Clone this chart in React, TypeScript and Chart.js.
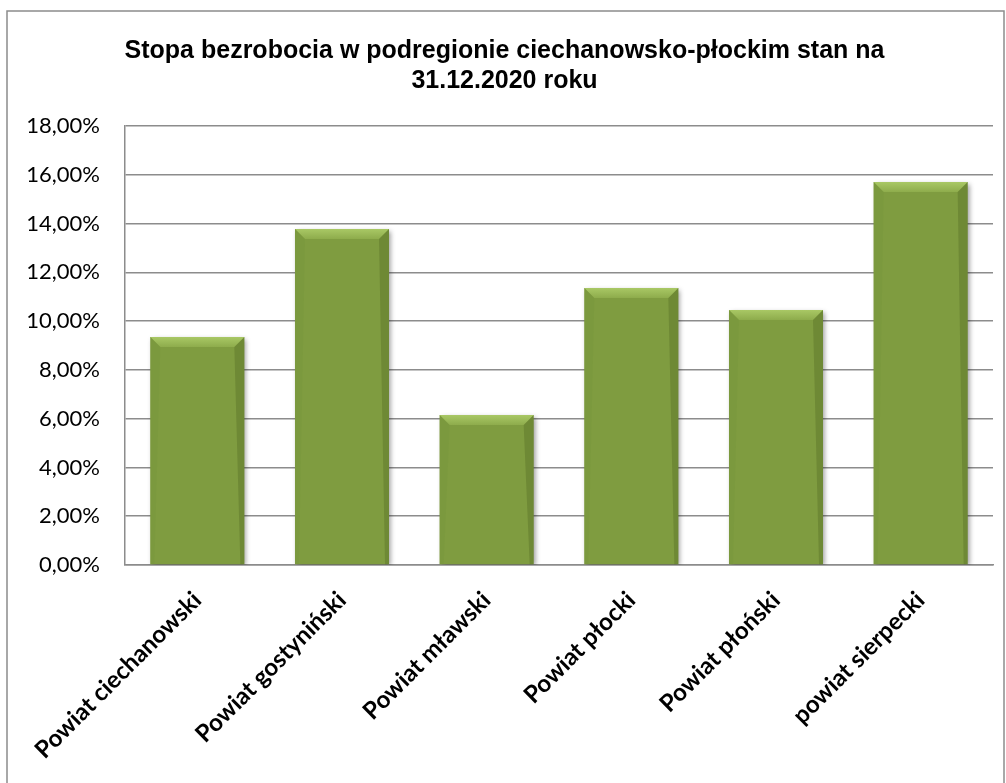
import React, { useEffect, useRef } from 'react';
import { Chart, registerables } from 'chart.js';

Chart.register(...registerables);

const categories = [
  'Powiat ciechanowski',
  'Powiat gostyniński',
  'Powiat mławski',
  'Powiat płocki',
  'Powiat płoński',
  'powiat sierpecki',
];
const unemploymentRate = [9.35, 13.78, 6.15, 11.36, 10.46, 15.7];
const yTickValues = [0, 2, 4, 6, 8, 10, 12, 14, 16, 18];
const titleLines = [
  'Stopa bezrobocia w podregionie ciechanowsko-płockim stan na',
  '31.12.2020 roku',
];

const W = 1006;
const H = 783;

const framePlugin = {
  id: 'frame',
  beforeDraw(chart: any) {
    const ctx = chart.ctx;
    ctx.save();
    ctx.fillStyle = '#ffffff';
    ctx.fillRect(0, 0, chart.width, chart.height);
    ctx.strokeStyle = '#8c8c8c';
    ctx.lineWidth = 1.5;
    ctx.strokeRect(7, 11, 997, 820);
    ctx.restore();
  },
};

const bevelPlugin = {
  id: 'bevel',
  beforeDatasetsDraw(chart: any) {
    const ctx = chart.ctx;
    ctx.save();
    ctx.shadowColor = 'rgba(0,0,0,0.40)';
    ctx.shadowBlur = 5;
    ctx.shadowOffsetX = 2;
    ctx.shadowOffsetY = 2;
  },
  afterDatasetsDraw(chart: any) {
    const ctx = chart.ctx;
    ctx.restore();
    const meta = chart.getDatasetMeta(0);
    meta.data.forEach((bar: any) => {
      const { x, y, base, width } = bar.getProps(['x', 'y', 'base', 'width'], true);
      const left = x - width / 2;
      const right = x + width / 2;
      const top = y;
      const bottom = base;
      const d = 10;
      ctx.save();
      const g = ctx.createLinearGradient(0, top, 0, top + d);
      g.addColorStop(0, '#a9c865');
      g.addColorStop(1, '#8eac4c');
      ctx.beginPath();
      ctx.moveTo(left, top);
      ctx.lineTo(right, top);
      ctx.lineTo(right - d, top + d);
      ctx.lineTo(left + d, top + d);
      ctx.closePath();
      ctx.fillStyle = g;
      ctx.fill();
      ctx.beginPath();
      ctx.moveTo(left, top);
      ctx.lineTo(left + d, top + d);
      ctx.lineTo(left + 4, bottom);
      ctx.lineTo(left, bottom);
      ctx.closePath();
      ctx.fillStyle = 'rgba(120,150,60,0.45)';
      ctx.fill();
      ctx.beginPath();
      ctx.moveTo(right, top);
      ctx.lineTo(right - d, top + d);
      ctx.lineTo(right - 4, bottom);
      ctx.lineTo(right, bottom);
      ctx.closePath();
      ctx.fillStyle = 'rgba(60,80,20,0.25)';
      ctx.fill();
      ctx.restore();
    });
  },
};

export default function App() {
  const canvasRef = useRef<HTMLCanvasElement | null>(null);

  useEffect(() => {
    document.body.style.margin = '0';
    const canvas = canvasRef.current;
    if (!canvas) return;
    const chart = new Chart(canvas, {
      type: 'bar',
      data: {
        labels: categories,
        datasets: [
          {
            data: unemploymentRate,
            backgroundColor: (c: any) => {
              const area = c.chart.chartArea;
              const el = c.element;
              if (!area || !el || el.width === undefined) return '#7f9c40';
              const l = el.x - el.width / 2;
              const r = el.x + el.width / 2;
              const g = c.chart.ctx.createLinearGradient(l, 0, r, 0);
              g.addColorStop(0, '#738f38');
              g.addColorStop(0.15, '#809d41');
              g.addColorStop(0.85, '#809d41');
              g.addColorStop(1, '#6d8733');
              return g;
            },
            borderWidth: 0,
            categoryPercentage: 1,
            barPercentage: 0.65,
          },
        ],
      },
      options: {
        responsive: false,
        animation: false,
        layout: { padding: { left: 8, right: 5, top: 0, bottom: 0 } },
        plugins: {
          legend: { display: false },
          tooltip: { enabled: false },
          title: {
            display: true,
            text: titleLines,
            color: '#000000',
            font: { family: '"Liberation Sans", Arial, sans-serif', size: 25, weight: 'bold', lineHeight: 1.2 },
            padding: { top: 36, bottom: 30 },
          },
        },
        scales: {
          x: {
            grid: { display: false, drawTicks: false },
            border: { display: true, color: '#8c8c8c', width: 1.5 },
            ticks: {
              autoSkip: false,
              minRotation: 45,
              maxRotation: 45,
              padding: 21,
              color: '#000000',
              font: { family: 'Lato, "Noto Sans", sans-serif', size: 24, weight: 'bold' },
            },
            afterFit: (scale: any) => {
              scale.height = 218;
            },
          },
          y: {
            min: 0,
            max: 18,
            afterBuildTicks: (scale: any) => {
              scale.ticks = yTickValues.map((v) => ({ value: v }));
            },
            grid: { color: '#8c8c8c', lineWidth: 1.5, drawTicks: false },
            border: { display: true, color: '#8c8c8c', width: 1.5 },
            ticks: {
              padding: 25,
              color: '#000000',
              font: { family: 'Lato, "Noto Sans", sans-serif', size: 22 },
              callback: (v: any) => Number(v).toFixed(2).replace('.', ',') + '%',
            },
            afterFit: (scale: any) => {
              scale.width = 117;
            },
          },
          ySpacer: {
            position: 'right',
            display: true,
            min: 0,
            max: 18,
            grid: { display: false, drawTicks: false },
            border: { display: false },
            ticks: { display: false },
            afterFit: (scale: any) => {
              scale.width = 8;
            },
          },
        },
      },
      plugins: [framePlugin, bevelPlugin],
    });
    return () => chart.destroy();
  }, []);

  return (
    <div style={{ width: W, height: H, overflow: 'hidden' }}>
      <canvas ref={canvasRef} width={W} height={H} style={{ display: 'block', width: W, height: H }} />
    </div>
  );
}
